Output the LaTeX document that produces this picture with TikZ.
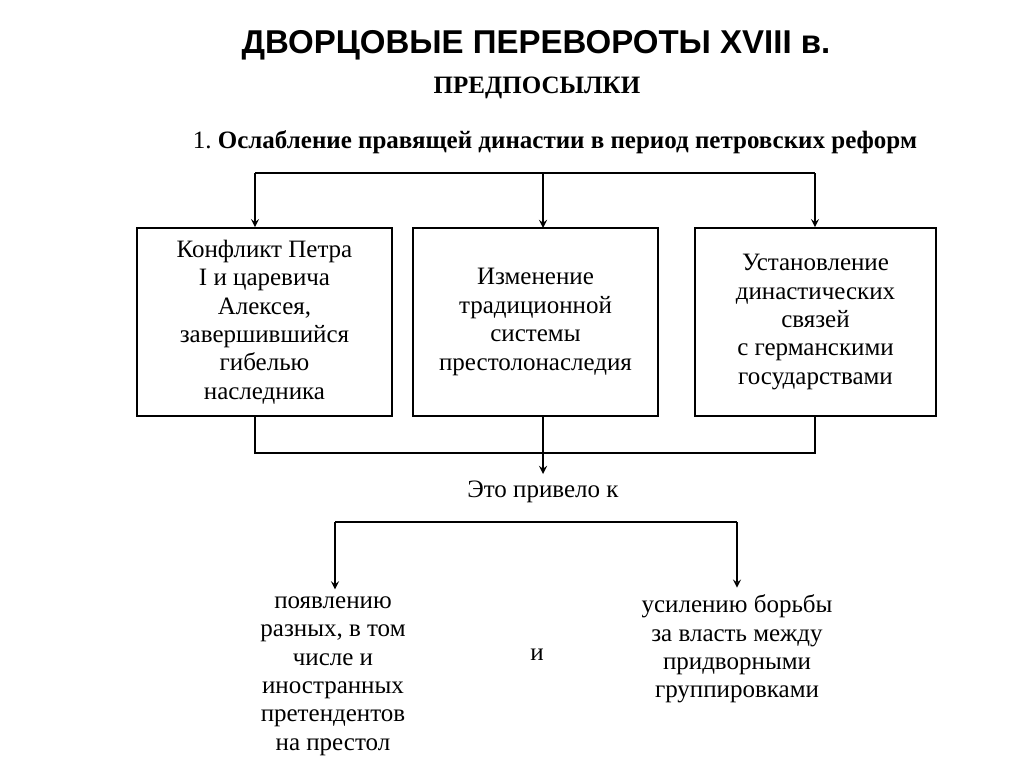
\documentclass[tikz,border=0pt]{standalone}
\usepackage{fontspec}
\setmainfont{Liberation Serif}
\newfontfamily\titlefont{Liberation Sans}
\begin{document}
\begin{tikzpicture}[x=0.5pt,y=-0.5pt,
  txt/.style={align=center,font=\fontsize{12.5}{14.2}\selectfont},
  cause/.style={draw,thick,minimum width=#1*0.5pt,minimum height=94pt,txt},
  link/.style={thick},
  arr/.style={thick,->,>=stealth}]

\useasboundingbox (0,0) rectangle (1024,767);

%% heading
\node (title) at (536,45) {\titlefont\bfseries\fontsize{16.5}{19}\selectfont ДВОРЦОВЫЕ ПЕРЕВОРОТЫ XVIII в.};
\node (pre) at (537,88) {\bfseries\fontsize{12.5}{14}\selectfont ПРЕДПОСЫЛКИ};
\node (weak) at (555,142) {\fontsize{12.5}{14}\selectfont 1.~\bfseries Ослабление правящей династии в период петровских реформ};

%% the three causes
\node [cause=255] (c1) at (264.5,322) {Конфликт Петра\\I и царевича\\Алексея,\\завершившийся\\гибелью\\наследника};
\node [cause=245] (c2) at (535.5,322) {Изменение\\традиционной\\системы\\престолонаследия};
\node [cause=241] (c3) at (815.5,322) {Установление\\династических\\связей\\с германскими\\государствами};

\coordinate (top1) at (255,173);
\coordinate (top3) at (815,173);
\draw [link] (top1) -- (top3);
\draw [arr] (top1) -- (top1 |- c1.north);
\draw [arr] (543,173) -- (543,228);
\draw [arr] (top3) -- (top3 |- c3.north);

%% result
\node [txt] (led) at (543,492) {Это привело к};
\draw [link] (255,416) -- (255,453) -- (815,453) -- (815,416);
\draw [arr] (543,416) -- (led.north);

\coordinate (bl) at (335,522);
\coordinate (br) at (737,522);
\draw [link] (bl) -- (br);

\node [txt] (r1) at (333,676) {появлению\\разных, в том\\числе и\\иностранных\\претендентов\\на престол};
\node [txt] (r2) at (737,649) {усилению борьбы\\за власть между\\придворными\\группировками};
\node [txt] (and) at (537,655) {и};
\draw [arr] (bl) -- (bl |- r1.north);
\draw [arr] (br) -- (br |- r2.north);

\end{tikzpicture}
\end{document}
